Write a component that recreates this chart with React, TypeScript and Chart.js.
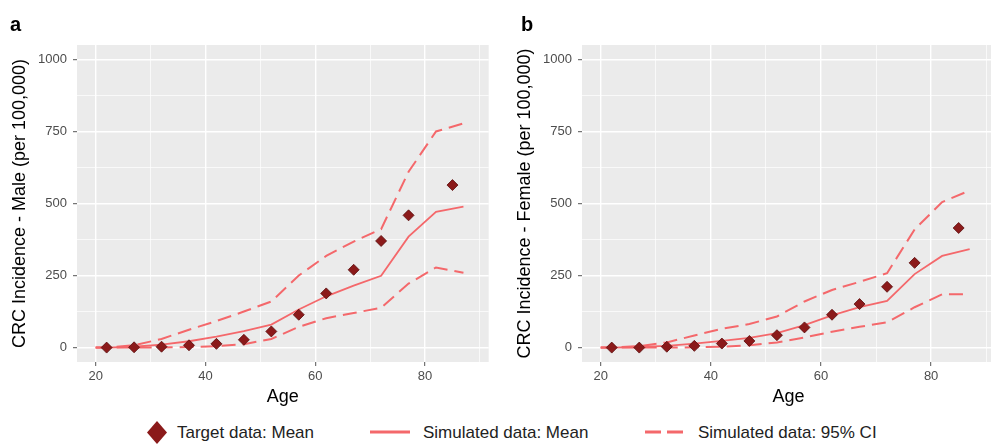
import React, { useEffect, useRef } from 'react';
import { Chart, registerables } from 'chart.js';

Chart.register(...registerables);

// ---- data ----
const simAges = [20, 22, 27, 32, 37, 42, 47, 52, 57, 62, 67, 72, 77, 82, 87];
const targetAges = [22, 27, 32, 37, 42, 47, 52, 57, 62, 67, 72, 77, 85];

const maleTarget = [0, 1, 3, 8, 13, 27, 56, 114, 188, 270, 370, 459, 564];
const maleMean = [0, 0, 3, 10, 22, 38, 57, 80, 132, 178, 215, 249, 385, 471, 489];
const maleUpper = [0, 0, 8, 30, 62, 92, 125, 160, 250, 318, 368, 411, 610, 750, 778];
const maleLower = [0, 0, 0, 0, 2, 5, 12, 30, 72, 102, 120, 138, 222, 278, 260];

const femaleTarget = [0, 0, 3, 6, 14, 23, 43, 70, 114, 151, 211, 294, 415];
const femaleMean = [0, 0, 2, 6, 14, 23, 34, 50, 78, 112, 140, 162, 255, 318, 342];
const femaleUpper = [0, 0, 5, 18, 42, 65, 82, 108, 160, 200, 228, 258, 410, 505, 545];
const femaleLower = [0, 0, 0, 0, 1, 3, 8, 18, 35, 55, 72, 88, 140, 185, 185];

const xMajor = [20, 40, 60, 80];
const xMinor = [30, 50, 70, 90];
const yMajor = [0, 250, 500, 750, 1000];
const yMinor = [125, 375, 625, 875];

const legendLabels = ['Target data: Mean', 'Simulated data: Mean', 'Simulated data: 95% CI'];

// ---- styles ----
const DARK = '#8B1A1A';
const LINE = '#F4686B';
const FONT = '"Liberation Sans", Arial, Helvetica, sans-serif';

const panelBg = {
  id: 'panelBg',
  beforeDraw(chart: any) {
    const { ctx, chartArea } = chart;
    ctx.save();
    ctx.fillStyle = '#EBEBEB';
    ctx.fillRect(chartArea.left, chartArea.top, chartArea.width, chartArea.height);
    ctx.restore();
  },
};

function pts(xs: number[], ys: number[]) {
  return xs.map((x, i) => ({ x, y: ys[i] }));
}

function makeConfig(target: number[], mean: number[], upper: number[], lower: number[], yTitle: string, padRight: number): any {
  const lineDs = (label: string, ys: number[], dash: number[]) => ({
    label,
    data: pts(simAges, ys),
    showLine: true,
    borderColor: LINE,
    backgroundColor: LINE,
    borderWidth: dash.length ? 2 : 1.8,
    borderDash: dash,
    borderCapStyle: 'butt',
    pointRadius: 0,
    tension: 0,
    fill: false,
  });
  return {
    type: 'scatter',
    data: {
      datasets: [
        {
          label: legendLabels[0],
          data: pts(targetAges, target),
          pointStyle: 'rectRot',
          pointRadius: 5.5,
          backgroundColor: DARK,
          borderColor: '#5a0c0c',
          borderWidth: 0.8,
          showLine: false,
        },
        lineDs(legendLabels[1], mean, []),
        lineDs(legendLabels[2], upper, [14, 7]),
        lineDs(legendLabels[2], lower, [14, 7]),
      ],
    },
    options: {
      responsive: false,
      animation: false,
      layout: { padding: { top: 45, right: padRight, left: 0, bottom: 0 } },
      plugins: { legend: { display: false }, tooltip: { enabled: false } },
      scales: {
        x: {
          type: 'linear',
          min: 16.6,
          max: 91.6,
          afterFit: (s: any) => { s.height = 48; },
          afterBuildTicks: (s: any) => {
            s.ticks = [...xMajor, ...xMinor].sort((a, b) => a - b).map((v) => ({ value: v }));
          },
          border: { display: false },
          grid: {
            color: '#FFFFFF',
            lineWidth: (c: any) => (xMajor.includes(c.tick?.value) ? 1.4 : 0.7),
            drawTicks: true,
            tickLength: 4,
            tickWidth: 1,
            tickColor: (c: any) => (xMajor.includes(c.tick?.value) ? '#555555' : 'rgba(0,0,0,0)'),
          },
          ticks: {
            autoSkip: false,
            maxRotation: 0,
            padding: 3,
            color: '#4D4D4D',
            font: { family: FONT, size: 13 },
            callback: (v: any) => (xMajor.includes(v) ? String(v) : ''),
          },
          title: {
            display: true,
            text: 'Age',
            color: '#000',
            font: { family: FONT, size: 18 },
            padding: { top: 0, bottom: 2 },
          },
        },
        y: {
          type: 'linear',
          min: -50,
          max: 1050,
          afterFit: (s: any) => { s.width = 77; },
          afterBuildTicks: (s: any) => {
            s.ticks = [...yMajor, ...yMinor].sort((a, b) => a - b).map((v) => ({ value: v }));
          },
          border: { display: false },
          grid: {
            color: '#FFFFFF',
            lineWidth: (c: any) => (yMajor.includes(c.tick?.value) ? 1.4 : 0.7),
            drawTicks: true,
            tickLength: 4,
            tickWidth: 1,
            tickColor: (c: any) => (yMajor.includes(c.tick?.value) ? '#555555' : 'rgba(0,0,0,0)'),
          },
          ticks: {
            autoSkip: false,
            padding: 6,
            color: '#4D4D4D',
            font: { family: FONT, size: 13 },
            callback: (v: any) => (yMajor.includes(v) ? String(v) : ''),
          },
          title: {
            display: true,
            text: yTitle,
            color: '#000',
            font: { family: FONT, size: 18 },
            padding: { top: 9, bottom: 0 },
          },
        },
      },
    },
    plugins: [panelBg],
  };
}

function Panel(props: { cfg: () => any; left: number; width: number }) {
  const ref = useRef<HTMLCanvasElement | null>(null);
  useEffect(() => {
    if (!ref.current) return;
    const chart = new Chart(ref.current, props.cfg());
    return () => chart.destroy();
  }, []);
  return (
    <canvas
      ref={ref}
      width={props.width}
      height={410}
      style={{ position: 'absolute', left: props.left, top: 0, width: props.width, height: 410 }}
    />
  );
}

const textStyle: React.CSSProperties = {
  position: 'absolute',
  fontFamily: FONT,
  fontSize: 17,
  lineHeight: '20px',
  color: '#222',
  whiteSpace: 'nowrap',
};

export default function App() {
  return (
    <div
      style={{
        position: 'absolute',
        left: 0,
        top: 0,
        width: 991,
        height: 444,
        overflow: 'hidden',
        background: '#FFFFFF',
      }}
    >
      <Panel
        left={0}
        width={495}
        cfg={() => makeConfig(maleTarget, maleMean, maleUpper, maleLower, 'CRC Incidence - Male (per 100,000)', 5)}
      />
      <Panel
        left={505}
        width={500}
        cfg={() => makeConfig(femaleTarget, femaleMean, femaleUpper, femaleLower, 'CRC Incidence - Female (per 100,000)', 10)}
      />
      <div style={{ position: 'absolute', left: 10, top: 14, fontFamily: FONT, fontWeight: 'bold', fontSize: 20, lineHeight: '20px', color: '#000' }}>a</div>
      <div style={{ position: 'absolute', left: 521, top: 14, fontFamily: FONT, fontWeight: 'bold', fontSize: 20, lineHeight: '20px', color: '#000' }}>b</div>

      {/* legend */}
      <svg style={{ position: 'absolute', left: 146, top: 421 }} width={22} height={23}>
        <polygon points="11,0 21,11.5 11,23 1,11.5" fill={DARK} />
      </svg>
      <div style={{ ...textStyle, left: 177, top: 423 }}>{legendLabels[0]}</div>
      <svg style={{ position: 'absolute', left: 370, top: 428 }} width={40} height={8}>
        <line x1={0} y1={4} x2={40} y2={4} stroke={LINE} strokeWidth={3.2} />
      </svg>
      <div style={{ ...textStyle, left: 423, top: 423 }}>{legendLabels[1]}</div>
      <svg style={{ position: 'absolute', left: 645, top: 428 }} width={38} height={8}>
        <line x1={0} y1={4} x2={38} y2={4} stroke={LINE} strokeWidth={3.2} strokeDasharray="16 6" />
      </svg>
      <div style={{ ...textStyle, left: 698, top: 423 }}>{legendLabels[2]}</div>
    </div>
  );
}
